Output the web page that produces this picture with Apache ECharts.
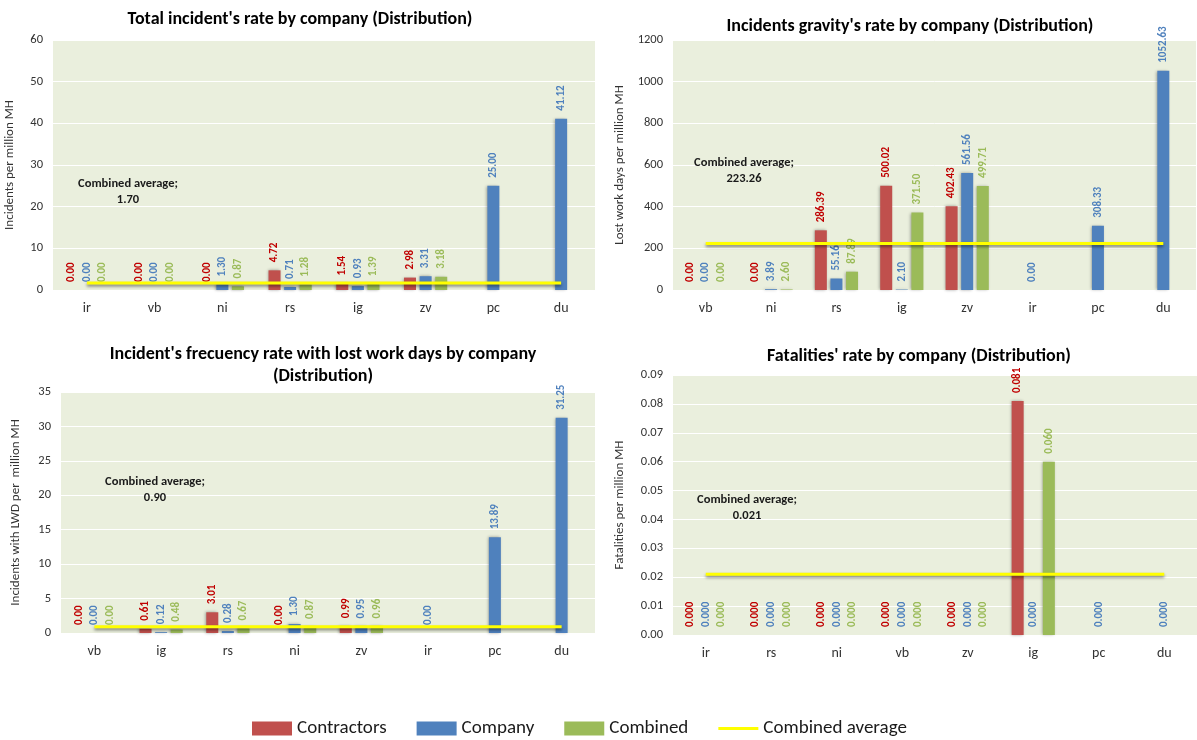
<!DOCTYPE html>
<html>
<head>
<meta charset="utf-8">
<title>Incident rates by company (Distribution)</title>
<script src="https://cdn.jsdelivr.net/npm/echarts@6/dist/echarts.min.js"></script>
<style>
  html, body { margin: 0; padding: 0; background: #fff; }
  #main { width: 1197px; height: 740px; }
</style>
</head>
<body>
<div id="main"></div>
<script>
// --- data ---------------------------------------------------------------
// total incident's rate
const totalCats = ['ir', 'vb', 'ni', 'rs', 'ig', 'zv', 'pc', 'du'];
const totalContractors = [0, 0, 0, 4.72, 1.54, 2.98, null, null];
const totalCompany = [0, 0, 1.30, 0.71, 0.93, 3.31, 25.00, 41.12];
const totalCombined = [0, 0, 0.87, 1.28, 1.39, 3.18, null, null];
const totalAvg = 1.70;

// incidents gravity's rate
const gravityCats = ['vb', 'ni', 'rs', 'ig', 'zv', 'ir', 'pc', 'du'];
const gravityContractors = [0, 0, 286.39, 500.02, 402.43, null, null, null];
const gravityCompany = [0, 3.89, 55.16, 2.10, 561.56, 0, 308.33, 1052.63];
const gravityCombined = [0, 2.60, 87.89, 371.50, 499.71, null, null, null];
const gravityAvg = 223.26;

// frequency rate with lost work days
const lwdCats = ['vb', 'ig', 'rs', 'ni', 'zv', 'ir', 'pc', 'du'];
const lwdContractors = [0, 0.61, 3.01, 0, 0.99, null, null, null];
const lwdCompany = [0, 0.12, 0.28, 1.30, 0.95, 0, 13.89, 31.25];
const lwdCombined = [0, 0.48, 0.67, 0.87, 0.96, null, null, null];
const lwdAvg = 0.90;

// fatalities' rate
const fatalCats = ['ir', 'rs', 'ni', 'vb', 'zv', 'ig', 'pc', 'du'];
const fatalContractors = [0, 0, 0, 0, 0, 0.081, null, null];
const fatalCompany = [0, 0, 0, 0, 0, 0, 0, 0];
const fatalCombined = [0, 0, 0, 0, 0, 0.060, null, null];
const fatalAvg = 0.021;

// --- style ----------------------------------------------------------------
const FONT = "Carlito, 'Liberation Sans Narrow', 'Liberation Sans', sans-serif";
const RED = '#C0504D', BLUE = '#4F81BD', GREEN = '#9BBB59';
const RED_TXT = '#C00000', BLUE_TXT = '#4F81BD', GREEN_TXT = '#9BBB59';

const panels = [
  { cats: totalCats, con: totalContractors, com: totalCompany, comb: totalCombined, avg: totalAvg,
    digits: 2, max: 60, interval: 10, yDigits: 0,
    grid: { left: 53, top: 40, width: 542, height: 250 },
    title: "Total incident's rate by company (Distribution)", titleX: 295, titleY: 3,
    yName: 'Incidents per million MH', nameGap: 37, note: [128, 184] },
  { cats: gravityCats, con: gravityContractors, com: gravityCompany, comb: gravityCombined, avg: gravityAvg,
    digits: 2, max: 1200, interval: 200, yDigits: 0,
    grid: { left: 673, top: 40, width: 523, height: 250 },
    title: "Incidents gravity's rate by company (Distribution)", titleX: 905, titleY: 10,
    yName: 'Lost work days per million MH', nameGap: 47, note: [744, 163] },
  { cats: lwdCats, con: lwdContractors, com: lwdCompany, comb: lwdCombined, avg: lwdAvg,
    digits: 2, max: 35, interval: 5, yDigits: 0,
    grid: { left: 61, top: 392, width: 534, height: 241 },
    title: "Incident's frecuency rate with lost work days by company\n(Distribution)", titleX: 318, titleY: 338,
    yName: 'Incidents with LWD per  million MH', nameGap: 39, note: [155, 482] },
  { cats: fatalCats, con: fatalContractors, com: fatalCompany, comb: fatalCombined, avg: fatalAvg,
    digits: 3, max: 0.09, interval: 0.01, yDigits: 2,
    grid: { left: 673, top: 375, width: 525, height: 260 },
    title: "Fatalities' rate by company (Distribution)", titleX: 914, titleY: 340,
    yName: 'Fatalities per million MH', nameGap: 47, note: [747, 500] }
];

function barLabel(color, digits) {
  return {
    show: true,
    position: 'top',
    rotate: 90,
    align: 'left',
    verticalAlign: 'middle',
    distance: 8,
    color: color,
    fontSize: 11,
    fontWeight: 'bold',
    fontFamily: FONT,
    formatter: p => (p.value == null ? '' : Number(p.value).toFixed(digits))
  };
}

const grids = [], xAxes = [], yAxes = [], titles = [], series = [], graphics = [];

panels.forEach((p, i) => {
  grids.push(Object.assign({ show: true, backgroundColor: '#EAEFDD', borderWidth: 0 }, p.grid));

  xAxes.push({
    type: 'category', gridIndex: i, data: p.cats,
    axisLine: { show: false }, axisTick: { show: false },
    axisLabel: { color: '#333', fontSize: 14, fontFamily: FONT, margin: 11 }
  });

  yAxes.push({
    type: 'value', gridIndex: i, min: 0, max: p.max, interval: p.interval,
    name: p.yName, nameLocation: 'middle', nameGap: p.nameGap, nameRotate: 90,
    nameTextStyle: { color: '#333', fontSize: 13, fontFamily: FONT },
    axisLine: { show: false }, axisTick: { show: false },
    axisLabel: { color: '#333', fontSize: 12.5, fontFamily: FONT, margin: 10,
      formatter: v => v.toFixed(p.yDigits) },
    splitLine: { lineStyle: { color: '#ffffff', width: 1 } }
  });

  titles.push({
    text: p.title, left: p.titleX, top: p.titleY, textAlign: 'center',
    textStyle: { color: '#000', fontSize: 18, fontWeight: 'bold', fontFamily: FONT, lineHeight: 22 }
  });

  const shadow = { shadowColor: 'rgba(0,0,0,0.35)', shadowBlur: 3, shadowOffsetX: -1, shadowOffsetY: 0 };
  const bar = (name, data, color, lblColor) => ({
    name: name, type: 'bar', xAxisIndex: i, yAxisIndex: i, data: data,
    barWidth: 12, barGap: '30%',
    itemStyle: Object.assign({ color: color }, shadow),
    label: barLabel(lblColor, p.digits)
  });
  series.push(bar('Contractors', p.con, RED, RED_TXT));
  series.push(bar('Company', p.com, BLUE, BLUE_TXT));
  series.push(bar('Combined', p.comb, GREEN, GREEN_TXT));
  series.push({
    name: 'Combined average', type: 'line', xAxisIndex: i, yAxisIndex: i,
    data: p.cats.map(() => p.avg),
    symbol: 'none', z: 5,
    lineStyle: { color: '#FFFF00', width: 3, shadowColor: 'rgba(0,0,0,0.45)', shadowBlur: 3, shadowOffsetY: 2 },
    itemStyle: { color: '#FFFF00' }
  });

  graphics.push({
    type: 'text', x: p.note[0], y: p.note[1] + 8, z: 10,
    style: {
      text: 'Combined average;\n' + p.avg.toFixed(p.digits),
      align: 'center', verticalAlign: 'middle',
      fill: '#1a1a1a', font: 'bold 12.5px ' + FONT, lineHeight: 16
    }
  });
});

const chart = echarts.init(document.getElementById('main'));
chart.setOption({
  backgroundColor: '#ffffff',
  animation: false,
  title: titles,
  grid: grids,
  xAxis: xAxes,
  yAxis: yAxes,
  legend: {
    left: 247, top: 714,
    itemWidth: 40, itemHeight: 14, itemGap: 30,
    textStyle: { color: '#1a1a1a', fontSize: 19, fontFamily: FONT },
    data: [
      { name: 'Contractors', icon: 'rect' },
      { name: 'Company', icon: 'rect' },
      { name: 'Combined', icon: 'rect' },
      { name: 'Combined average', icon: 'path://M0,0L40,0L40,3L0,3Z', itemStyle: { color: '#FFFF00' } }
    ]
  },
  graphic: graphics,
  series: series
});
</script>
</body>
</html>
